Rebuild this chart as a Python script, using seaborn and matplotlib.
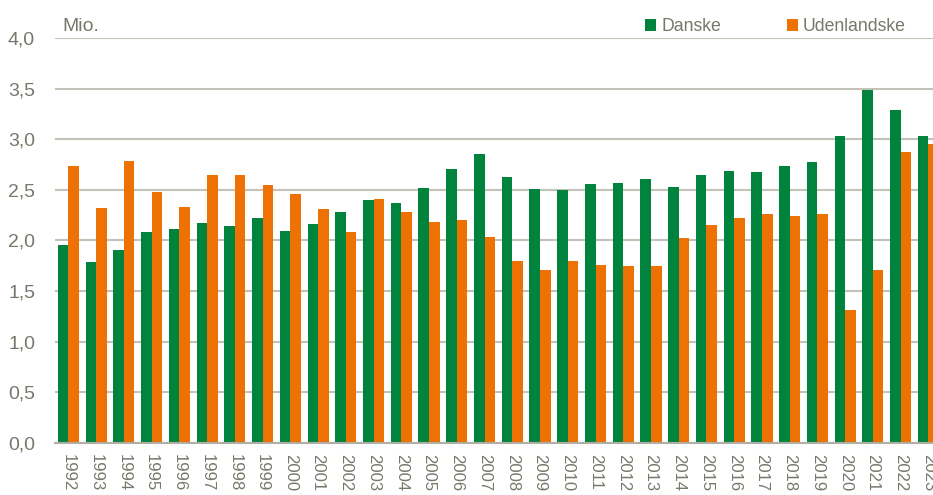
import matplotlib
matplotlib.use("Agg")
import matplotlib.pyplot as plt
import seaborn as sns
import pandas as pd

# Overnatninger (mio.) - danske og udenlandske gæster
years = [str(y) for y in range(1992, 2024)]
danske = [1.96, 1.79, 1.91, 2.08, 2.11, 2.17, 2.14, 2.22, 2.09, 2.16,
          2.28, 2.40, 2.37, 2.52, 2.71, 2.85, 2.63, 2.51, 2.50, 2.56,
          2.57, 2.61, 2.53, 2.65, 2.69, 2.68, 2.74, 2.78, 3.03, 3.49,
          3.29, 3.03]
udenlandske = [2.74, 2.32, 2.79, 2.48, 2.33, 2.65, 2.65, 2.55, 2.46, 2.31,
               2.08, 2.41, 2.28, 2.18, 2.20, 2.03, 1.80, 1.71, 1.80, 1.76,
               1.75, 1.75, 2.02, 2.15, 2.22, 2.26, 2.24, 2.26, 1.31, 1.71,
               2.87, 2.95]
series = ["Danske", "Udenlandske"]
yticks = [0.0, 0.5, 1.0, 1.5, 2.0, 2.5, 3.0, 3.5, 4.0]

df = pd.DataFrame({
    "År": years * 2,
    "Værdi": danske + udenlandske,
    "Gruppe": [series[0]] * len(years) + [series[1]] * len(years),
})

GREEN = "#00843D"
ORANGE = "#EE7203"
TXT = "#77776B"
GRID = "#C3C2B8"

sns.set_style("white")
plt.rcParams["font.family"] = ["Liberation Sans", "DejaVu Sans"]

fig = plt.figure(figsize=(9.33, 4.95), dpi=100)
# the plot area runs a little past the right edge, as in the original
ax = fig.add_axes([54.5 / 933, 52 / 495, (942.3 - 54.5) / 933, 405 / 495])

sns.barplot(data=df, x="År", y="Værdi", hue="Gruppe", order=years,
            hue_order=series, palette=[GREEN, ORANGE], width=0.76,
            saturation=1, linewidth=0, ax=ax, zorder=3)

ax.set_xlim(-0.5, len(years) - 0.5)
ax.set_ylim(0, 4.0)
ax.set_yticks(yticks)
ax.set_yticklabels([f"{v:.1f}".replace(".", ",") for v in yticks])
ax.yaxis.grid(True, color=GRID, linewidth=1.5, zorder=0)
ax.set_axisbelow(True)
for s in ["left", "right", "top"]:
    ax.spines[s].set_visible(False)
ax.spines["bottom"].set_color("#B0AFA5")
ax.spines["bottom"].set_linewidth(1.5)
ax.spines["bottom"].set_zorder(4)

ax.tick_params(axis="y", length=0, pad=14, labelsize=14, labelcolor=TXT)
ax.tick_params(axis="x", length=0, pad=8, labelsize=12, labelcolor=TXT)
for lab in ax.get_xticklabels():
    lab.set_rotation(270)
    lab.set_va("top")
    lab.set_ha("center")
ax.set_xlabel("")
ax.set_ylabel("")

fig.text(62 / 933, 1 - 31 / 495, "Mio.", fontsize=14, color=TXT, va="baseline")

leg = ax.legend(loc="upper right", bbox_to_anchor=(913 / 933, 1 - 11 / 495),
                bbox_transform=fig.transFigure, ncol=2, frameon=False,
                fontsize=12.7, handlelength=0.63, handleheight=0.63,
                handletextpad=0.3, columnspacing=3.7, borderaxespad=0)
for t in leg.get_texts():
    t.set_color(TXT)

fig.savefig("out.png", dpi=100)
